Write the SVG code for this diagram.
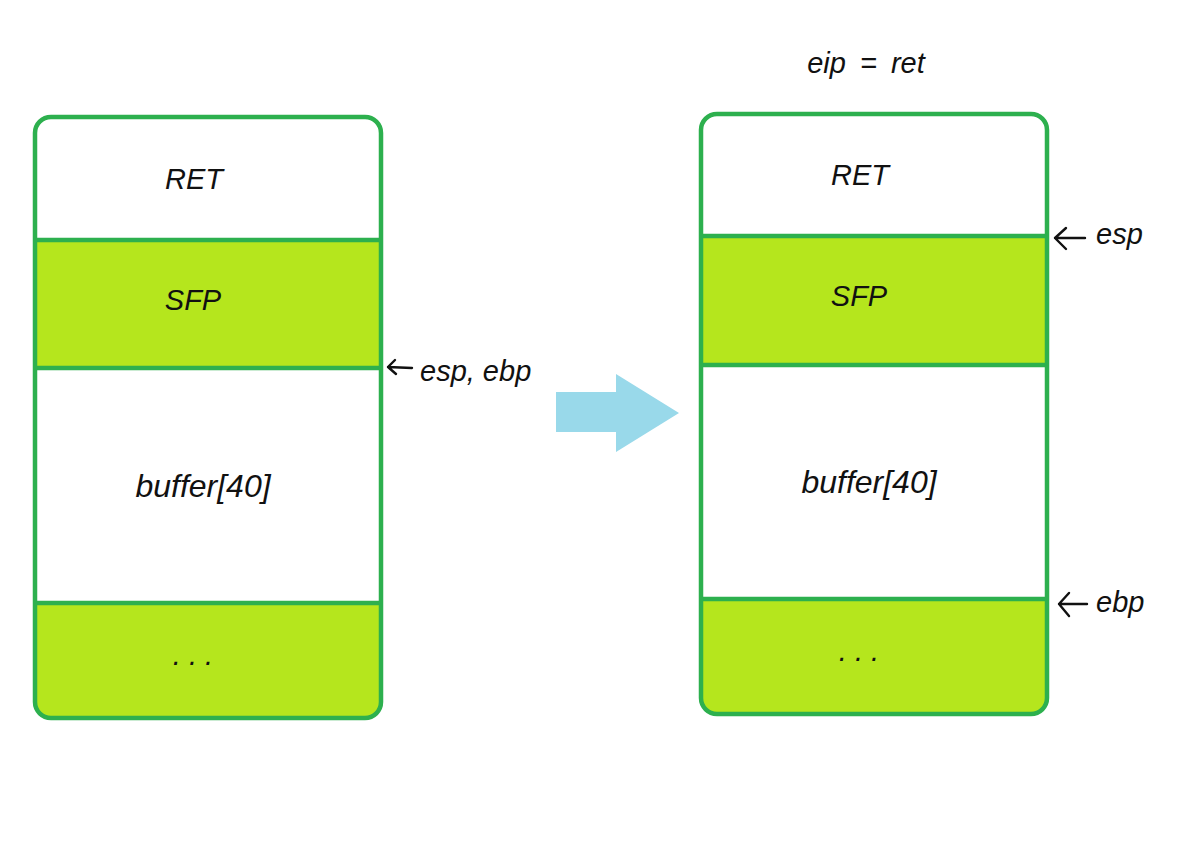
<svg xmlns="http://www.w3.org/2000/svg" width="1187" height="852" viewBox="0 0 1187 852">
<style>
.lbl{font-family:"Liberation Sans",Arial,sans-serif;font-style:italic;font-size:29px;fill:#111;text-anchor:middle}
.big{font-size:32px}
.ptr{font-family:"Liberation Sans",Arial,sans-serif;font-style:italic;font-size:29px;fill:#111}
.outline{fill:none;stroke:#2db04e;stroke-width:4.5}
.div{stroke:#2db04e;stroke-width:4.5}
.lime{fill:#b5e61d}
.pa{fill:none;stroke:#111;stroke-width:2.4;stroke-linecap:round;stroke-linejoin:round}
</style>
<defs>
<clipPath id="cl"><rect x="35" y="117" width="346" height="601" rx="16"/></clipPath>
<clipPath id="cr"><rect x="701" y="114" width="346" height="600" rx="16"/></clipPath>
</defs>
<rect width="1187" height="852" fill="#fff"/>
<g id="left-stack">
<rect x="35" y="117" width="346" height="601" rx="16" fill="#fff"/>
<g clip-path="url(#cl)">
<rect class="lime" x="30" y="240" width="360" height="128"/>
<rect class="lime" x="30" y="603" width="360" height="120"/>
</g>
<line class="div" x1="35" y1="240" x2="381" y2="240"/>
<line class="div" x1="35" y1="368" x2="381" y2="368"/>
<line class="div" x1="35" y1="603" x2="381" y2="603"/>
<rect class="outline" x="35" y="117" width="346" height="601" rx="16"/>
<text class="lbl" x="194" y="189">RET</text>
<text class="lbl" x="193" y="310">SFP</text>
<text class="lbl big" x="203" y="497">buffer[40]</text>
<text class="lbl" x="193" y="665">. . .</text>
</g>
<g id="right-stack">
<rect x="701" y="114" width="346" height="600" rx="16" fill="#fff"/>
<g clip-path="url(#cr)">
<rect class="lime" x="696" y="236" width="360" height="129"/>
<rect class="lime" x="696" y="599" width="360" height="120"/>
</g>
<line class="div" x1="701" y1="236" x2="1047" y2="236"/>
<line class="div" x1="701" y1="365" x2="1047" y2="365"/>
<line class="div" x1="701" y1="599" x2="1047" y2="599"/>
<rect class="outline" x="701" y="114" width="346" height="600" rx="16"/>
<text class="lbl" x="860" y="185">RET</text>
<text class="lbl" x="859" y="306">SFP</text>
<text class="lbl big" x="869" y="493">buffer[40]</text>
<text class="lbl" x="859" y="661">. . .</text>
</g>
<g id="eip-label">
<text class="lbl" x="866" y="73" word-spacing="6">eip = ret</text>
</g>
<g id="transition-arrow">
<polygon points="556,392 616,392 616,374 679,413 616,452 616,432 556,432" fill="#99d9ea"/>
</g>
<g id="connectors">
<path class="pa" d="M388,367 L412,368 M395,360 L388,367 L396,374"/>
<path class="pa" d="M1055,238 L1085,238 M1066,228 L1055,238 L1066,249"/>
<path class="pa" d="M1059,604 L1087,604 M1069,593 L1059,604 L1069,616"/>
</g>
<g id="pointer-labels">
<text class="ptr" x="420" y="381">esp, ebp</text>
<text class="ptr" x="1096" y="244">esp</text>
<text class="ptr" x="1096" y="612">ebp</text>
</g>
</svg>
